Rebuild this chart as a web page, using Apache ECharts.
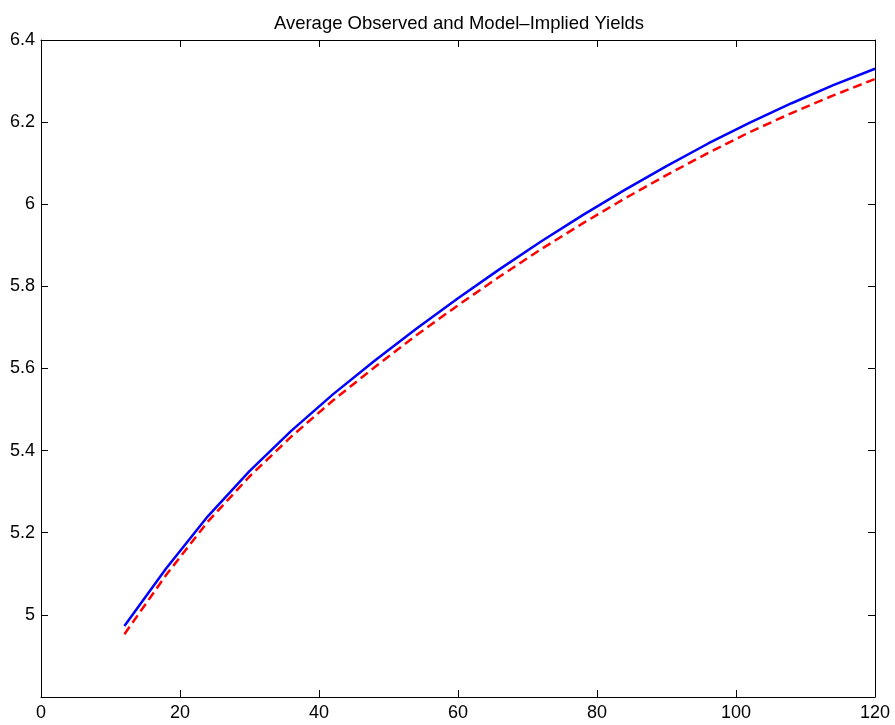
<!DOCTYPE html>
<html>
<head>
<meta charset="utf-8">
<script src="https://cdn.jsdelivr.net/npm/echarts@6/dist/echarts.min.js"></script>
<style>
html,body{margin:0;padding:0;background:#fff;}
#chart{width:895px;height:725px;}
</style>
</head>
<body>
<div id="chart"></div>
<script>
var titleText = 'Average Observed and Model\u2013Implied Yields';
var maturities = [12, 18, 24, 30, 36, 42, 48, 54, 60, 66, 72, 78, 84, 90, 96, 102, 108, 114, 120];
var observed = [4.973, 5.113, 5.240, 5.350, 5.448, 5.537, 5.619, 5.697, 5.771, 5.842, 5.910, 5.974, 6.035, 6.093, 6.148, 6.199, 6.246, 6.290, 6.330];
var modelImplied = [4.953, 5.097, 5.227, 5.337, 5.434, 5.522, 5.603, 5.681, 5.754, 5.824, 5.891, 5.954, 6.014, 6.071, 6.125, 6.176, 6.222, 6.265, 6.305];
var xTicks = [0, 20, 40, 60, 80, 100, 120];
var yTicks = ['5', '5.2', '5.4', '5.6', '5.8', '6', '6.2', '6.4'];

var font = '"Liberation Sans", Arial, Helvetica, sans-serif';
function pairs(xs, ys){ return xs.map(function(x,i){ return [x, ys[i]]; }); }

var chart = echarts.init(document.getElementById('chart'), null, {renderer:'canvas'});
var axisLine = {show:true, onZero:false, lineStyle:{color:'#000', width:1}};
var tickIn = {show:true, inside:true, length:7, lineStyle:{color:'#000', width:1}};
var gridBox = {left:41, right:20, top:40, bottom:28, containLabel:false};
chart.setOption({
  animation:false,
  backgroundColor:'#fff',
  title:{text:titleText, left:454, top:9, textAlign:'center',
    textStyle:{fontFamily:font, fontSize:18.5, fontWeight:'normal', color:'#000'}},
  grid:[gridBox, gridBox],
  xAxis:[
    {gridIndex:0, type:'value', min:0, max:120, interval:20, position:'bottom',
     axisLine:axisLine, axisTick:tickIn, splitLine:{show:false},
     axisLabel:{show:true, color:'#000', fontFamily:font, fontSize:18, margin:7,
       formatter:function(v){ return xTicks.indexOf(v) >= 0 ? String(v) : ''; }}},
    {gridIndex:1, type:'value', min:0, max:120, interval:20, position:'top',
     axisLine:axisLine, axisTick:tickIn, splitLine:{show:false}, axisLabel:{show:false}}
  ],
  yAxis:[
    {gridIndex:0, type:'value', min:4.8, max:6.4, interval:0.2, position:'left',
     axisLine:axisLine, axisTick:tickIn, splitLine:{show:false},
     axisLabel:{show:true, color:'#000', fontFamily:font, fontSize:18, margin:6,
       formatter:function(v){ var s = String(Math.round(v*10)/10); return yTicks.indexOf(s) >= 0 ? s : ''; }}},
    {gridIndex:1, type:'value', min:4.8, max:6.4, interval:0.2, position:'right',
     axisLine:axisLine, axisTick:tickIn, splitLine:{show:false}, axisLabel:{show:false}}
  ],
  series:[
    {type:'line', name:'Observed', xAxisIndex:0, yAxisIndex:0, data:pairs(maturities, observed), showSymbol:false, symbol:'none',
     lineStyle:{color:'#0000ff', width:2.5}, z:3},
    {type:'line', name:'Model-Implied', xAxisIndex:0, yAxisIndex:0, data:pairs(maturities, modelImplied), showSymbol:false, symbol:'none',
     lineStyle:{color:'#ff0000', width:2.5, type:[9,5]}, z:4}
  ]
});
</script>
</body>
</html>
